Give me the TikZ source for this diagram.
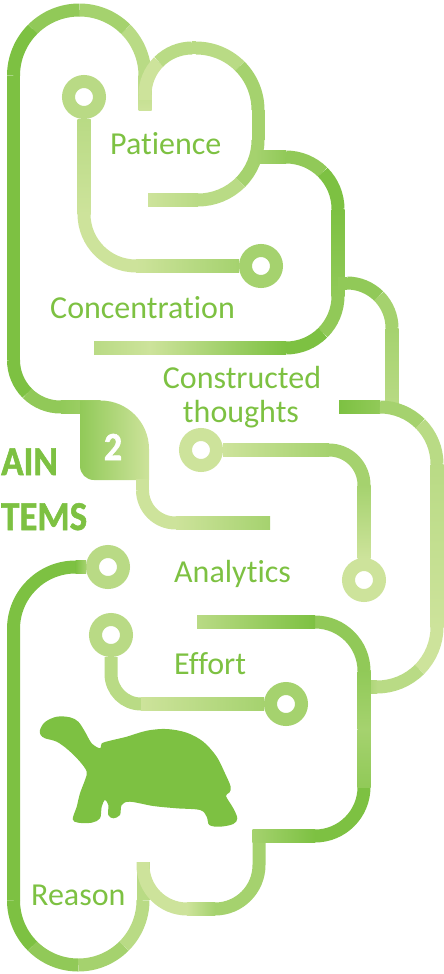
\documentclass[tikz,border=0pt]{standalone}
\usepackage{fontspec}
\setmainfont{Carlito}[Ligatures=NoCommon]
\newfontfamily\headfont{Carlito}[Ligatures=NoCommon, BoldFeatures={FakeBold=1.4, FakeStretch=0.9}]
\usetikzlibrary{positioning}
\definecolor{leafdark}{HTML}{7DC142}
\definecolor{leafpale}{HTML}{CDE39B}
\colorlet{leaf4}{leafdark}
\colorlet{leaf3}{leafdark!75!leafpale}
\colorlet{leaf2}{leafdark!50!leafpale}
\colorlet{leaf1}{leafdark!25!leafpale}
\colorlet{leaf0}{leafpale}
\tikzset{
    wire/.style={line width=13pt},
    padring/.style={circle, draw=#1, fill=white, line width=13pt, minimum size=31pt, inner sep=0pt},
    word/.style={text=leafdark, font=\fontsize{32}{34}\selectfont, inner sep=0pt},
    headword/.style={text=leafdark, font=\headfont\bfseries\fontsize{41}{41}\selectfont, inner sep=0pt},
}
% straight runs that fade: x1, x2, y, left, right  /  y1, y2, x, top, bottom
\newcommand{\hrun}[5]{\shade[left color=#4, right color=#5] (#1,#3-6.5) rectangle (#2,#3+6.5);}
\newcommand{\vrun}[5]{\shade[top color=#4, bottom color=#5] (#3-6.5,#1) rectangle (#3+6.5,#2);}
% bends: colour, centre x, centre y, start, end, radius
\newcommand{\bend}[6]{\draw[wire, #1] (#2,#3) ++(#4:#6) arc[start angle=#4, end angle=#5, radius=#6];}

\begin{document}
\begin{tikzpicture}[x=1pt, y=-1pt] % circuit brain
	\useasboundingbox (0,0) rectangle (444,974);
	% contact pads
	\node[padring=leaf1] (patPad) at (84,97) {};
	\node[padring=leaf2] (concPad) at (261,266) {};
	\node[padring=leaf0] (consPad) at (201,450) {};
	\node[padring=leaf0] (consEnd) at (364,580) {};
	\node[padring=leaf1] (anaPad) at (108,567) {};
	\node[padring=leaf1] (effPad) at (111,635) {};
	\node[padring=leaf2] (effEnd) at (286,704) {};
	\coordinate (reasonTip) at (143,862);
	\coordinate (effortTip) at (197,622);

	% outer arch down to the badge
	\vrun{75.75}{110}{145}{leaf1}{leaf0}
	\bend{leaf1}{79.25}{75.75}{360}{315}{65.75}
	\bend{leaf2}{79.25}{75.75}{315}{270}{65.75}
	\bend{leaf3}{79.25}{75.75}{270}{225}{65.75}
	\bend{leaf4}{79.25}{75.75}{225}{180}{65.75}
	\draw[wire, leaf4] (13.5,75.75) -- (13.5,360);
	\bend{leaf4}{60.5}{360}{180}{135}{47}
	\bend{leaf3}{60.5}{360}{135}{90}{47}
	\hrun{60.5}{100.5}{407}{leaf3}{leaf2}
	\shade[left color=leaf3, right color=leaf0] (80,400.5) -- (100.5,400.5)
		arc[start angle=270, end angle=360, radius=48.5] -- (149,480) -- (94,480)
		arc[start angle=90, end angle=180, radius=14] -- cycle;
	\draw[wire, leaf0] (142.5,479) -- (142.5,490);
	\bend{leaf0}{175.5}{490}{180}{90}{33}
	\hrun{175.5}{270}{523}{leaf0}{leaf2}
	\node[text=white, font=\headfont\bfseries\fontsize{40}{40}\selectfont, inner sep=0pt] (two) at (113,447) {2};

	% patience loop
	\draw[wire, leaf0] (145,100) -- (145,95);
	\bend{leaf0}{192}{95}{180}{225}{47}
	\bend{leaf1}{192}{95}{225}{270}{47}
	\draw[wire, leaf1] (192,48) -- (196,48);
	\bend{leaf1}{196}{110}{270}{315}{62}
	\bend{leaf2}{196}{110}{315}{360}{62}
	\draw[wire, leaf2] (258,110) -- (258,140);
	\bend{leaf2}{198}{140}{0}{45}{60}
	\bend{leaf1}{198}{140}{45}{90}{60}
	\hrun{148}{198}{200}{leaf0}{leaf1}

	% concentration loop
	\hrun{255}{286}{157}{leaf2}{leaf3}
	\bend{leaf3}{286}{209}{270}{315}{52}
	\bend{leaf4}{286}{209}{315}{360}{52}
	\vrun{209}{296}{338}{leaf4}{leaf3}
	\bend{leaf3}{286}{296}{0}{45}{52}
	\bend{leaf4}{286}{296}{45}{90}{52}
	\hrun{150}{286}{348}{leaf0}{leaf4}
	\hrun{94}{150}{348}{leaf1}{leaf0}

	% right hand branches
	\draw[wire, leaf3] (338,283) -- (347,283);
	\bend{leaf3}{347}{328}{270}{315}{45}
	\bend{leaf2}{347}{328}{315}{360}{45}
	\vrun{328}{407}{392}{leaf2}{leaf1}
	\hrun{339}{380}{407}{leaf4}{leaf3}
	\bend{leaf2}{380}{464}{270}{315}{57}
	\bend{leaf1}{380}{464}{315}{360}{57}
	\vrun{464}{627}{437}{leaf1}{leaf0}
	\bend{leaf0}{377}{627}{0}{45}{60}
	\bend{leaf1}{377}{627}{45}{90}{60}
	\hrun{364}{377}{687}{leaf2}{leaf1}

	% pad to pad traces
	\draw[wire, leaf0, rounded corners=52pt] (patPad) |- (concPad);
	\vrun{119}{214}{84}{leaf1}{leaf0}
	\hrun{136}{239}{266}{leaf0}{leaf2}
	\draw[wire, leaf2, rounded corners=35pt] (consPad) -| (consEnd);
	\hrun{223}{329}{450}{leaf0}{leaf2}
	\vrun{485}{558}{364}{leaf2}{leaf0}
	\draw[wire, leaf1, rounded corners=30pt] (effPad) |- (effEnd);
	\hrun{141}{264}{704}{leaf0}{leaf2}

	% analytics trace and the reason loop
	\draw[wire, leaf4, rounded corners=62pt] (anaPad) -| (13.5,900.25);
	\hrun{75.5}{86}{567}{leaf4}{leaf2}
	\bend{leaf4}{78.25}{900.25}{180}{135}{64.75}
	\bend{leaf3}{78.25}{900.25}{135}{90}{64.75}
	\bend{leaf2}{78.25}{900.25}{90}{45}{64.75}
	\bend{leaf1}{78.25}{900.25}{45}{0}{64.75}
	\draw[wire, leaf1] (143,900.25) -- (reasonTip);
	\draw[wire, leaf0, rounded corners=44pt] (reasonTip) |- (201,909);
	\draw[wire, leaf2, rounded corners=44pt] (201,909) -| (259,836);
	\hrun{187}{215}{909}{leaf0}{leaf2}

	% effort loop
	\draw[wire, leaf4, rounded corners=49pt] (252.5,836) -| (364,760);
	\draw[wire, leaf2] (364,761) -- (364,670);
	\draw[wire, leaf3, rounded corners=49pt] (364,671) |- (effortTip);
	\hrun{197}{315}{622}{leaf1}{leaf4}
	\hrun{252.5}{315}{836}{leaf2}{leaf4}
	\vrun{671}{729}{364}{leaf3}{leaf2}
	\vrun{729}{787}{364}{leaf2}{leaf3}

	% tortoise
	\fill[leafdark] plot[smooth cycle, tension=0.55] coordinates {
		(40,730) (45,722) (56.7,716.7) (70,717.3) (78.3,721.7) (85,731.7)
		(91.7,743.3) (100,748.3) (101.7,743.3) (110,740.7) (126.7,736.7)
		(146.7,730.7) (166.7,729) (186.7,732.7) (203.3,741.7) (216.7,756.7)
		(225,773.3) (230.7,786.7) (229.3,792.7) (226,796) (233.3,808.3)
		(237.3,818.3) (233.3,824) (220,826.7) (209.3,825) (206.7,816.7)
		(200,810) (176.7,808.3) (153.3,806) (130,801.7) (121.7,805)
		(120,815) (113.3,818.3) (108.3,815) (108.3,805) (105,800)
		(101.7,806.7) (100,818.3) (91.7,822.7) (78.3,822.7) (72.7,819.3)
		(76.7,806.7) (80,793.3) (85,780) (86.7,771.7) (80,761.7)
		(68.3,750) (56.7,741.7) (45,738.3) (40.7,735)};

	% labels
	\node[word, anchor=base west] (patience) at (110,154) {Patience};
	\node[word, anchor=base west] (concentration) at (50,318) {Concentration};
	\node[word, anchor=base] (constructed) at (242,388) {Constructed};
	\node[word, anchor=base] (thoughts) at (241,422) {thoughts};
	\node[word, anchor=base west] (analytics) at (174,582) {Analytics};
	\node[word, anchor=base west] (effort) at (174,674) {Effort};
	\node[word, anchor=base west] (reason) at (31,905) {Reason};
	\node[headword, anchor=base west] (ain) at (1,475) {AIN};
	\node[headword, anchor=base west] (tems) at (1,530) {TEMS};
\end{tikzpicture}
\end{document}
